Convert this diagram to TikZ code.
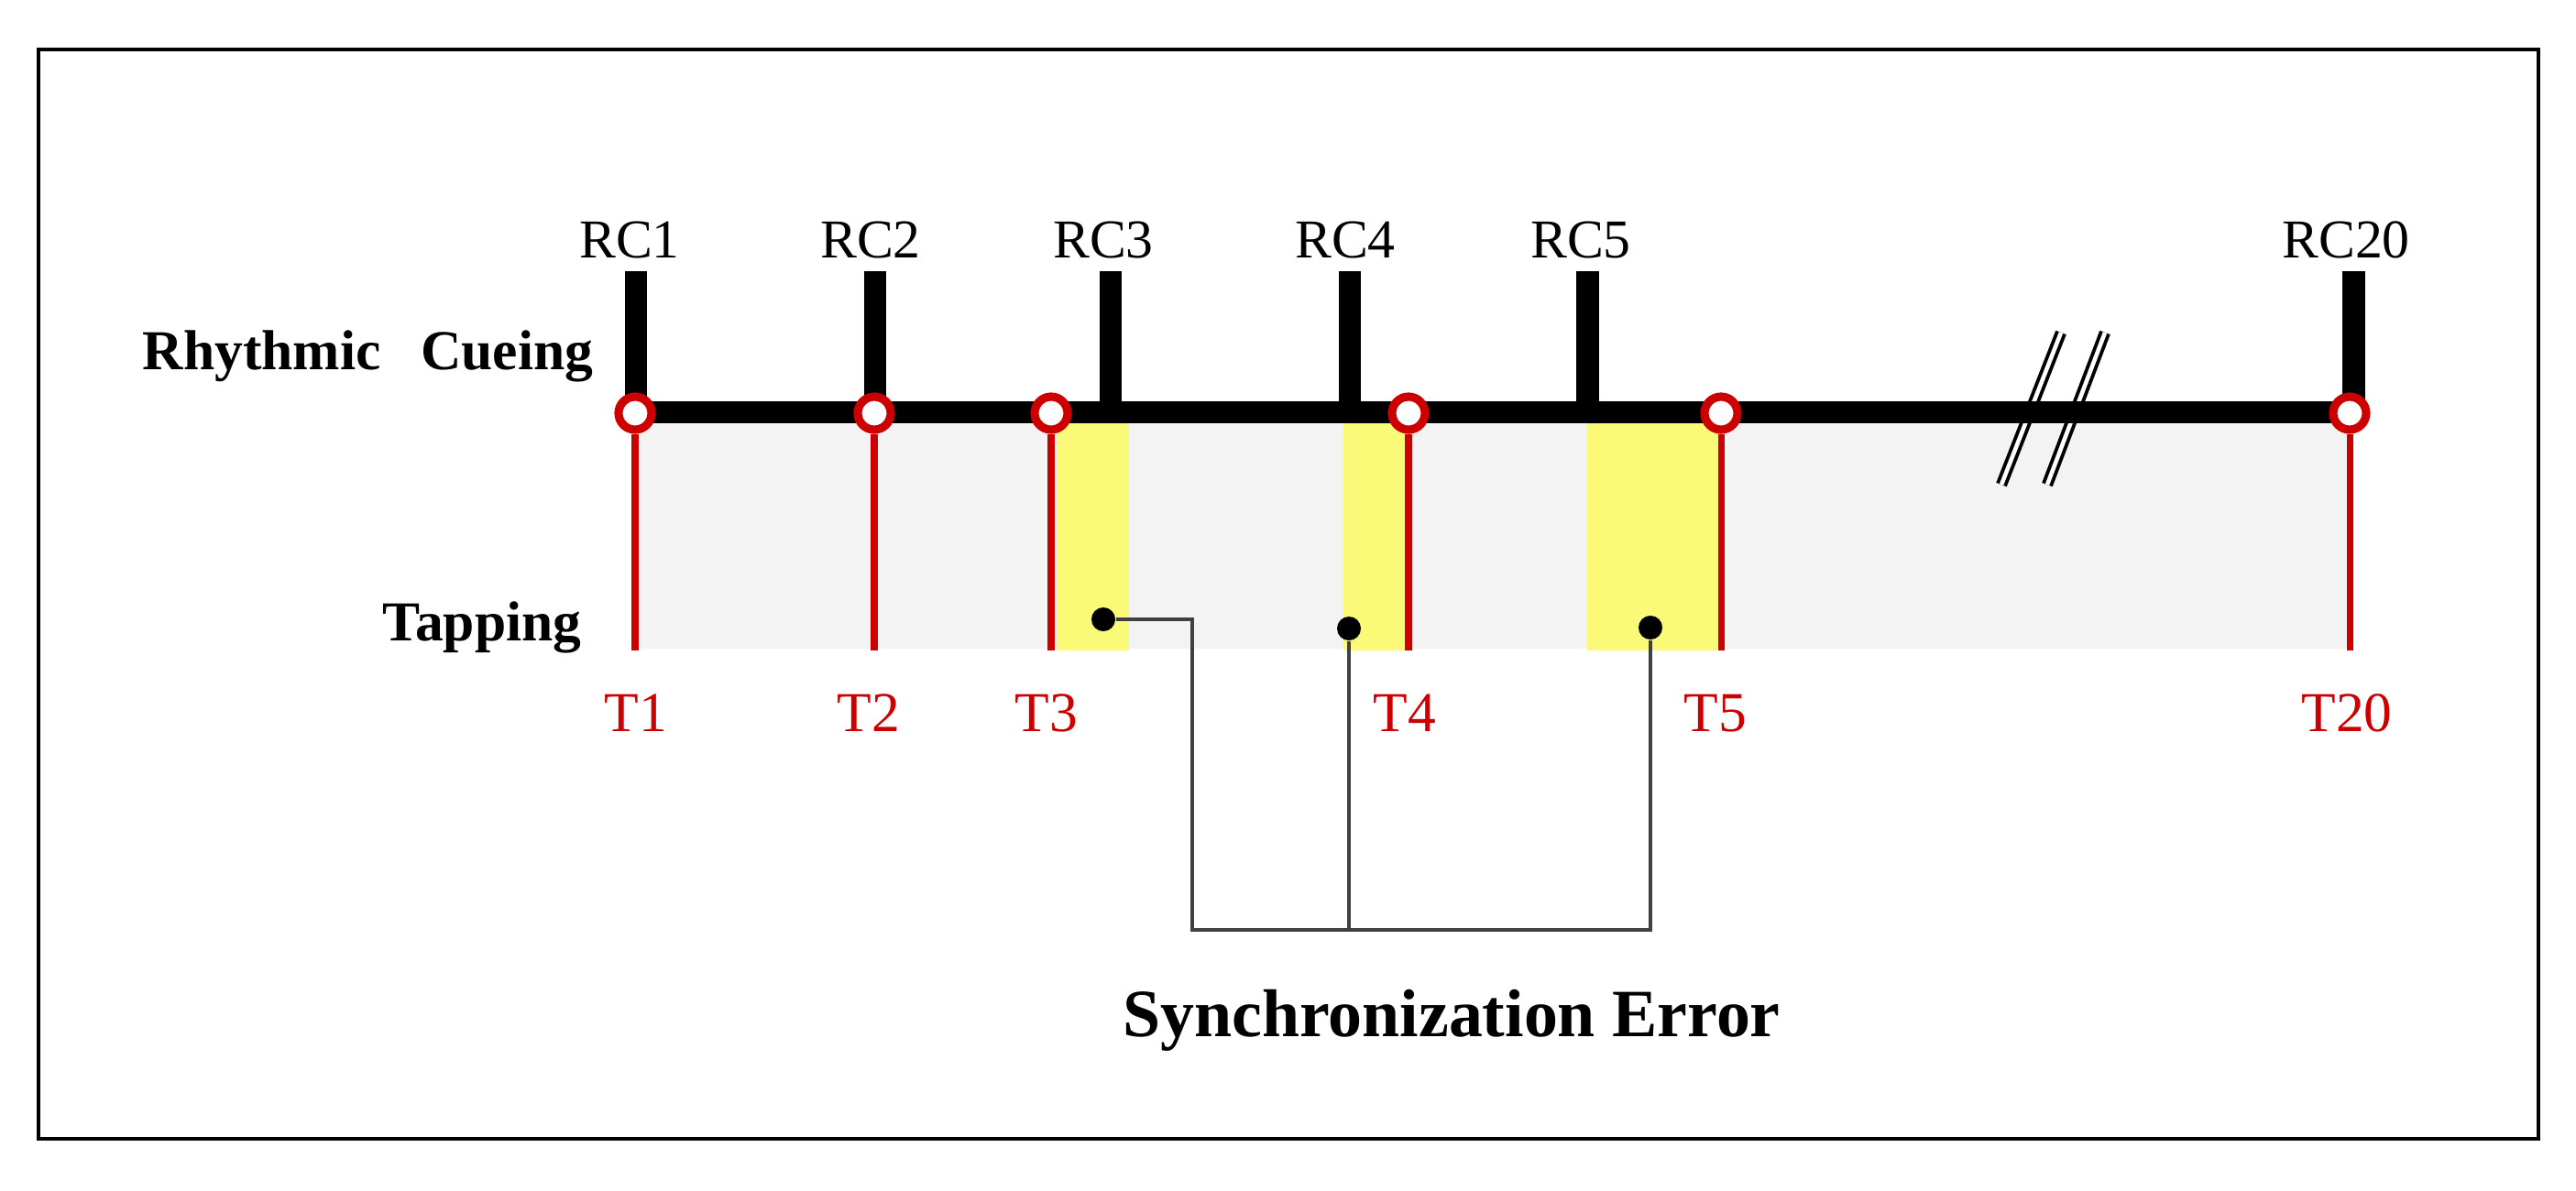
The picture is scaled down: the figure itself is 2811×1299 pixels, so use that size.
\documentclass[tikz,border=0pt]{standalone}
\usepackage{fontspec}
\setmainfont{Liberation Serif}
\usepackage{xcolor}
\usetikzlibrary{positioning}
\definecolor{tapred}{RGB}{204,0,0}
\definecolor{errfill}{RGB}{250,250,120}
\definecolor{bandgray}{RGB}{243,243,243}

\begin{document}
\begin{tikzpicture}[
  x=0.01cm, y=-0.01cm,
  cue/.style={font=\fontsize{17}{20}\selectfont, inner sep=0pt, anchor=base},
  tap/.style={font=\fontsize{17.5}{20}\selectfont, text=tapred, inner sep=0pt, anchor=base},
  rowlabel/.style={font=\fontsize{17.5}{20}\selectfont\bfseries, inner sep=0pt, anchor=base east},
  ring/.style={circle, draw=tapred, fill=white, line width=2.6pt, minimum size=0.36cm, inner sep=0pt},
  errdot/.style={circle, fill=black, minimum size=0.26cm, inner sep=0pt},
  stem/.style={line width=7.1pt},
  tapline/.style={draw=tapred, line width=2pt},
  conn/.style={line width=1pt, draw=black!75},
  brk/.style={line width=1.1pt, double=white, double distance=1.3pt}
]
\useasboundingbox (0,0) rectangle (2811,1299);

% Frame
\draw[line width=1pt] (42,54) rectangle (2770,1243);

% Background bands
\fill[bandgray] (694,463) rectangle (2562,708);
\fill[errfill] (1153,460) rectangle (1232,710);
\fill[errfill] (1466,460) rectangle (1536,710);
\fill[errfill] (1732,460) rectangle (1877,710);

% Break marks
\draw[brk] (2184,529) -- (2249,363);
\draw[brk] (2234,529) -- (2297,363);

% Cue axis and stems
\coordinate (c1) at (694,450);
\coordinate (c2) at (955,450);
\coordinate (c3) at (1212,450);
\coordinate (c4) at (1473,450);
\coordinate (c5) at (1732,450);
\coordinate (c20) at (2568,450);
\draw[stem] (681.5,450) -- (2580.5,450);
\draw[stem] (c1) -- ++(0,-154);
\draw[stem] (c2) -- ++(0,-154);
\draw[stem] (c3) -- ++(0,-154);
\draw[stem] (c4) -- ++(0,-154);
\draw[stem] (c5) -- ++(0,-154);
\draw[stem] (c20) -- ++(0,-154);

% Cue labels
\node[cue] (rc1) at (687,281) {RC1};
\node[cue] (rc2) at (950,281) {RC2};
\node[cue] (rc3) at (1204,281) {RC3};
\node[cue] (rc4) at (1468,281) {RC4};
\node[cue] (rc5) at (1725,281) {RC5};
\node[cue] (rc20) at (2560,281) {RC20};

% Taps
\coordinate (base) at (0,710);
\node[ring] (t1) at (693,451) {};
\node[ring] (t2) at (954,451) {};
\node[ring] (t3) at (1147,451) {};
\node[ring] (t4) at (1537,451) {};
\node[ring] (t5) at (1878,451) {};
\node[ring] (t20) at (2564,451) {};
\draw[tapline] (t1) -- (t1 |- base);
\draw[tapline] (t2) -- (t2 |- base);
\draw[tapline] (t3) -- (t3 |- base);
\draw[tapline] (t4) -- (t4 |- base);
\draw[tapline] (t5) -- (t5 |- base);
\draw[tapline] (t20) -- (t20 |- base);

% Tap labels
\node[tap] (lt1) at (694,798) {T1};
\node[tap] (lt2) at (948,798) {T2};
\node[tap] (lt3) at (1142,798) {T3};
\node[tap] (lt4) at (1533,798) {T4};
\node[tap] (lt5) at (1872,798) {T5};
\node[tap] (lt20) at (2561,798) {T20};

% Row labels
\node[rowlabel] (cueing) at (648,403) {Rhythmic\hspace{0.46em} Cueing};
\node[rowlabel] (tapping) at (635,699) {Tapping};

% Synchronization error
\node[errdot] (e3) at (1204,676) {};
\node[errdot] (e4) at (1472,686) {};
\node[errdot] (e5) at (1801,685) {};
\coordinate (bend) at (1301,1015);
\draw[conn] (e3) -| (bend) -- (bend -| e5) -- (e5);
\draw[conn] (e4) -- (e4 |- bend);
\node[font=\fontsize{21}{24}\selectfont\bfseries, inner sep=0pt, anchor=base] (sync) at (1584,1131) {Synchronization Error};

\end{tikzpicture}
\end{document}
